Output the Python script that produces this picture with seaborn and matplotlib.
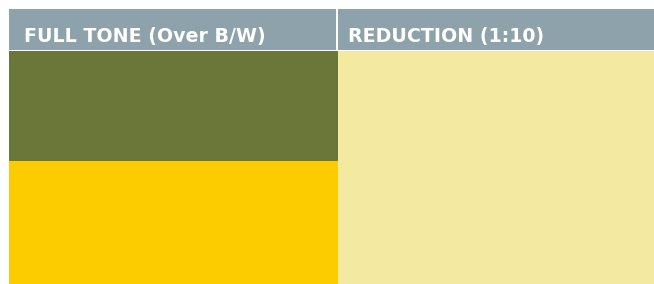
import matplotlib
matplotlib.use("Agg")
import matplotlib.pyplot as plt
import seaborn as sns
import pandas as pd

# ---- data ----
panels = ["FULL TONE (Over B/W)", "REDUCTION (1:10)"]
full_tone_colors = ["#FCCC00", "#6B7738"]      # bottom -> top
full_tone_shares = [123, 110]
reduction_colors = ["#F4E9A0"]
reduction_shares = [233]
header_color = "#8DA2AB"

sns.set_theme(style="white")
plt.rcParams["font.family"] = ["DejaVu Sans"]

W, H = 654, 284
fig = plt.figure(figsize=(W / 100, H / 100), dpi=100)
fig.patch.set_facecolor("white")

# swatch area
left_px, top_px = 9, 51
split_px = 338
ax = fig.add_axes([left_px / W, 0, (W - left_px) / W, (H - top_px) / H])
ax.set_xlim(0, W - left_px)
ax.set_ylim(0, H - top_px)
ax.axis("off")

lw = split_px - left_px
rw = W - split_px
bottom = 0
for c, s in zip(full_tone_colors, full_tone_shares):
    ax.bar(0, s, width=lw, bottom=bottom, align="edge", color=c, linewidth=0)
    bottom += s
bottom = 0
for c, s in zip(reduction_colors, reduction_shares):
    ax.bar(lw, s, width=rw, bottom=bottom, align="edge", color=c, linewidth=0)
    bottom += s

# header
hy0, hy1 = 9, 50
hax = fig.add_axes([left_px / W, 1 - hy1 / H, (W - left_px) / W, (hy1 - hy0) / H])
hax.set_xlim(0, W - left_px)
hax.set_ylim(0, 1)
hax.axis("off")
hax.add_patch(plt.Rectangle((0, 0), W - left_px, 1, color=header_color, lw=0))
hax.add_patch(plt.Rectangle((split_px - left_px - 2, 0), 2, 1, color="white", lw=0))
starts = [24 - left_px, 348 - left_px]
for x, t in zip(starts, panels):
    hax.text(x, 0.20, t, color="white", fontsize=13.7, fontweight="bold",
             va="baseline", ha="left")

fig.savefig("out.png", dpi=100, facecolor="white")
